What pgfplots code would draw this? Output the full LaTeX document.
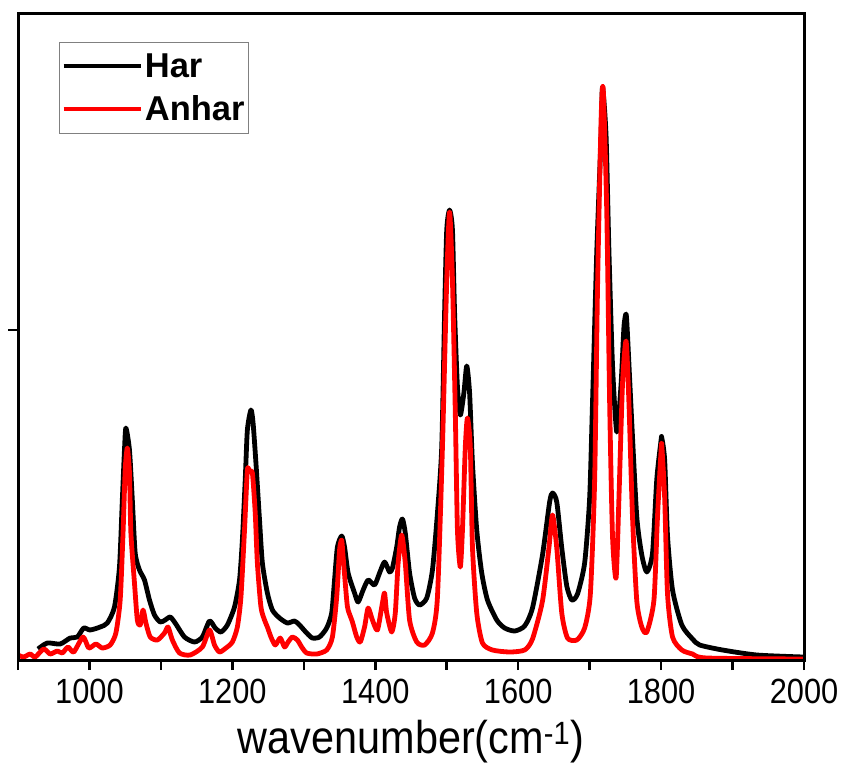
\documentclass[border=0pt]{standalone}
\usepackage{pgfplots}
\pgfplotsset{compat=1.18}
\usetikzlibrary{calc}
\usepackage{fontspec}
\setmainfont{Liberation Sans}
\newfontfamily\tickfont[FakeStretch=0.88]{Liberation Sans}
\newfontfamily\labelfont[FakeStretch=0.9]{Liberation Sans}
\begin{document}
\begin{tikzpicture}
\begin{axis}[
  scale only axis, width=786pt, height=646pt,
  xmin=900, xmax=2000, ymin=0, ymax=646,
  axis line style={line width=3pt},
  tick align=outside, xtick pos=bottom, ytick pos=left,
  xtick={900,1000,...,2000},
  xticklabels={,1000,,1200,,1400,,1600,,1800,,2000},
  major tick length=10pt,
  xtick style={line width=2.4pt, black},
  ytick style={line width=2.4pt, black},
  ytick={330}, yticklabels={},
  xticklabel style={font=\fontsize{35}{40}\selectfont\tickfont, yshift=-6pt},
  xlabel={wavenumber(cm\textsuperscript{-1})},
  xlabel style={font=\fontsize{46}{50}\selectfont\labelfont, yshift=-9pt},
  legend style={at={(axis description cs:0,1)}, anchor=north west, xshift=41pt, yshift=-28pt,
    draw=gray, line width=0.8pt, font=\fontsize{34.5}{38}\selectfont\bfseries,
    inner xsep=2pt, inner ysep=9pt, row sep=13pt,
    /tikz/every even column/.append style={column sep=11pt}},
  legend cell align=left,
  legend image code/.code={\draw[#1, line width=4.5pt] (0pt,0pt) -- (77pt,0pt);},
  every axis plot/.append style={line width=4.8pt, smooth, tension=0.4, line join=round},
]
\addplot[black] coordinates {
(928,11) (941,17) (959,16) (973,22) (983,23) (992,32) (1001,30) (1015,33) (1025,37)
(1035,53) (1042,93) (1046,160) (1049,210) (1051,232) (1056,210) (1060,160) (1064,107)
(1070,90) (1077,80) (1084,60) (1091,45) (1099,38) (1106,40) (1113,43) (1120,37)
(1133,23) (1147,18) (1158,23) (1168,39) (1176,32) (1184,28) (1193,35) (1203,53)
(1210,80) (1214,120) (1218,180) (1221,230) (1226,250) (1229,237) (1233,197) (1238,140)
(1242,97) (1249,67) (1256,50) (1266,42) (1277,37) (1287,39) (1294,35) (1304,27)
(1312,22) (1322,23) (1332,32) (1339,47) (1343,80) (1347,113) (1353,124) (1357,113)
(1362,87) (1371,67) (1376,58) (1383,70) (1390,80) (1399,75) (1406,87) (1413,98)
(1420,88) (1424,92) (1430,113) (1434,133) (1438,141) (1442,127) (1448,87) (1455,62)
(1462,55) (1472,62) (1480,90) (1487,147) (1493,213) (1497,347) (1500,430) (1504,450)
(1508,430) (1511,347) (1515,273) (1519,245) (1524,267) (1528,294) (1532,267) (1536,197)
(1542,130) (1549,87) (1557,60) (1570,40) (1581,32) (1595,29) (1609,34) (1620,52)
(1634,105) (1644,158) (1648,167) (1654,158) (1661,112) (1668,74) (1675,60) (1683,66)
(1693,97) (1700,162) (1704,257) (1710,409) (1716,524) (1718,573) (1723,524) (1727,409)
(1732,295) (1738,228) (1744,276) (1748,333) (1751,346) (1753,325) (1759,237) (1766,143)
(1773,105) (1780,88) (1788,107) (1794,181) (1800,220) (1801,222) (1805,200) (1809,124)
(1816,70) (1829,35) (1844,21) (1854,15) (1886,10) (1934,5) (1999,3)
};
\addlegendentry{Har}
\addplot[red] coordinates {
(900,5) (908,3) (917,6) (924,3) (936,11) (945,6) (955,9) (962,7) (970,13) (978,8)
(991,23) (999,12) (1009,16) (1018,12) (1029,15) (1037,27) (1043,60) (1047,127) (1050,190)
(1053,212) (1056,187) (1058,127) (1063,77) (1067,40) (1071,35) (1075,50) (1079,37)
(1085,23) (1095,20) (1105,27) (1110,33) (1116,20) (1126,7) (1141,5) (1158,13) (1168,30)
(1175,15) (1182,8) (1191,12) (1200,18) (1207,33) (1212,63) (1217,130) (1221,190)
(1224,188) (1228,187) (1232,147) (1235,97) (1240,53) (1245,40) (1249,33) (1254,23)
(1260,15) (1267,22) (1273,13) (1278,18) (1284,23) (1291,20) (1297,13) (1304,7) (1318,6)
(1332,10) (1340,23) (1346,63) (1350,110) (1353,120) (1355,103) (1360,60) (1362,50)
(1368,38) (1374,23) (1379,18) (1385,33) (1390,52) (1396,40) (1403,30) (1410,57)
(1413,67) (1416,47) (1423,28) (1428,47) (1432,97) (1437,125) (1442,97) (1448,40)
(1458,18) (1469,15) (1480,27) (1487,63) (1494,213) (1500,380) (1504,448) (1508,380)
(1512,247) (1515,130) (1519,93) (1522,130) (1526,213) (1529,242) (1533,213) (1536,113)
(1542,47) (1550,17) (1564,10) (1588,8) (1609,10) (1620,21) (1634,59) (1643,112)
(1648,145) (1654,112) (1661,47) (1669,22) (1682,20) (1693,32) (1701,66) (1707,180)
(1711,371) (1716,540) (1719,571) (1724,447) (1728,257) (1732,124) (1737,82) (1741,162)
(1746,276) (1751,319) (1755,257) (1760,143) (1766,59) (1773,33) (1780,28) (1790,60)
(1795,144) (1800,210) (1801,214) (1805,162) (1809,66) (1816,23) (1829,10) (1844,6)
(1864,2) (1999,1)
};
\addlegendentry{Anhar}
\end{axis}
\draw[line width=3pt, line cap=rect] (current axis.south west) rectangle (current axis.north east);
\foreach \f in {0,1,...,11}{
  \draw[line width=2.6pt, black] ($(current axis.south west)!{\f/11}!(current axis.south east)$) -- ++(0pt,-10pt);
}
\pgfresetboundingbox
\path ([xshift=-18pt,yshift=-109pt]current axis.south west) rectangle ([xshift=38pt,yshift=14pt]current axis.north east);
\end{tikzpicture}
\end{document}
